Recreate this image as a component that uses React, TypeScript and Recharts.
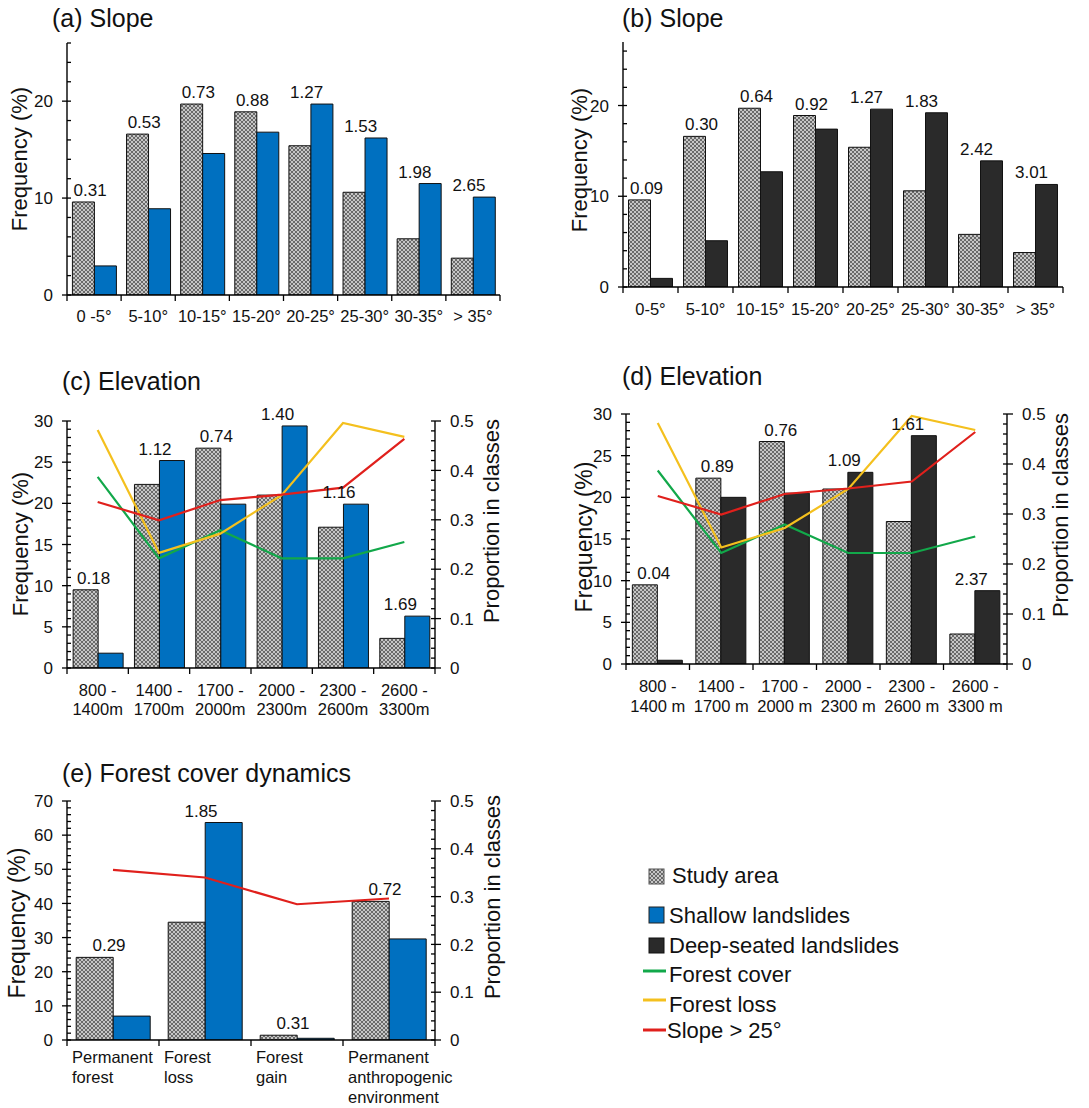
import React from 'react';
import { ComposedChart, Bar, Line, XAxis, YAxis, LabelList } from 'recharts';

const FONT = '"Liberation Sans", Arial, Helvetica, sans-serif';

// ---------- data ----------
const SLOPE_CATS_A = ['0 -5°', '5-10°', '10-15°', '15-20°', '20-25°', '25-30°', '30-35°', '> 35°'];
const SLOPE_CATS_B = ['0-5°', '5-10°', '10-15°', '15-20°', '20-25°', '25-30°', '30-35°', '> 35°'];
const SLOPE_STUDY = [9.6, 16.6, 19.7, 18.9, 15.4, 10.6, 5.8, 3.8];
const SLOPE_SHALLOW = [3.0, 8.9, 14.6, 16.8, 19.7, 16.2, 11.5, 10.1];
const SLOPE_SHALLOW_RATIO = ['0.31', '0.53', '0.73', '0.88', '1.27', '1.53', '1.98', '2.65'];
const SLOPE_DEEP = [0.95, 5.1, 12.7, 17.4, 19.6, 19.2, 13.9, 11.3];
const SLOPE_DEEP_RATIO = ['0.09', '0.30', '0.64', '0.92', '1.27', '1.83', '2.42', '3.01'];

const ELEV_CATS_C = ['800 -\n1400m', '1400 -\n1700m', '1700 -\n2000m', '2000 -\n2300m', '2300 -\n2600m', '2600 -\n3300m'];
const ELEV_CATS_D = ['800 -\n1400 m', '1400 -\n1700 m', '1700 -\n2000 m', '2000 -\n2300 m', '2300 -\n2600 m', '2600 -\n3300 m'];
const ELEV_STUDY = [9.5, 22.3, 26.7, 21.0, 17.1, 3.6];
const ELEV_SHALLOW = [1.8, 25.2, 19.9, 29.4, 19.9, 6.3];
const ELEV_SHALLOW_RATIO = ['0.18', '1.12', '0.74', '1.40', '1.16', '1.69'];
const ELEV_DEEP = [0.45, 20.0, 20.5, 23.0, 27.4, 8.8];
const ELEV_DEEP_RATIO = ['0.04', '0.89', '0.76', '1.09', '1.61', '2.37'];
const ELEV_FOREST_COVER = [0.387, 0.222, 0.279, 0.222, 0.222, 0.255];
const ELEV_FOREST_LOSS = [0.482, 0.233, 0.272, 0.35, 0.496, 0.468];
const ELEV_SLOPE25 = [0.336, 0.299, 0.34, 0.351, 0.365, 0.464];

const FOREST_CATS = ['Permanent\nforest', 'Forest\nloss', 'Forest\ngain', 'Permanent\nanthropogenic\nenvironment'];
const FOREST_STUDY = [24.2, 34.5, 1.4, 40.6];
const FOREST_SHALLOW = [7.0, 63.7, 0.5, 29.6];
const FOREST_RATIO = ['0.29', '1.85', '0.31', '0.72'];
const FOREST_SLOPE25 = [0.356, 0.34, 0.284, 0.296];

// ---------- colours ----------
const BLUE = '#0070C0';
const DARK = '#2a2a2a';
const GREEN = '#12A84A';
const YELLOW = '#F4C01E';
const RED = '#E0201C';

function buildRows(cats: string[], study: number[], slide: number[], ratio: string[], extra?: Record<string, number[]>) {
  return cats.map((name, i) => {
    const r: any = { name, pos: i + 0.5, study: study[i], slide: slide[i], top: Math.max(study[i], slide[i]), ratio: ratio[i] };
    if (extra) for (const k of Object.keys(extra)) r[k] = extra[k][i];
    return r;
  });
}

function range(start: number, end: number, step: number) {
  const out: number[] = [];
  for (let i = 0; start + i * step <= end + 1e-9; i++) out.push(Math.round((start + i * step) * 1000) / 1000);
  return out;
}

const isMult = (v: number, m: number) => Math.abs(v / m - Math.round(v / m)) < 1e-6;

const HatchDef = ({ id }: { id: string }) => (
  <pattern id={id} patternUnits="userSpaceOnUse" width={4} height={4}>
    <rect width={4} height={4} fill="#c6c6c6" />
    <path d="M0,0 L4,4 M4,0 L0,4" stroke="#6a6a6a" strokeWidth={1} />
  </pattern>
);

const LeftTick = (props: any) => {
  const { x, y, payload, major } = props;
  const v = payload.value;
  const mj = isMult(v, major);
  return (
    <g>
      <line x1={mj ? x - 5 : x} x2={x + 4} y1={y} y2={y} stroke="#000" strokeWidth={1.3} />
      {mj && (
        <text x={x - 14} y={y} dy="0.36em" textAnchor="end" fontSize={17} fontFamily={FONT} fill="#111">
          {String(v)}
        </text>
      )}
    </g>
  );
};

const RightTick = (props: any) => {
  const { x, y, payload } = props;
  const v = payload.value;
  const mj = isMult(v, 0.1);
  return (
    <g>
      <line x1={x - 4} x2={mj ? x + 6 : x} y1={y} y2={y} stroke="#000" strokeWidth={1.3} />
      {mj && (
        <text x={x + 15} y={y} dy="0.36em" textAnchor="start" fontSize={17} fontFamily={FONT} fill="#111">
          {v === 0 ? '0' : String(v)}
        </text>
      )}
    </g>
  );
};

const XTick = (props: any) => {
  const { x, y, payload, cats, mode, base, gap } = props;
  const v = payload.value;
  const isInt = Number.isInteger(v);
  const n = cats.length;
  let label: string | null = null;
  let tx = x;
  let anchor = 'middle';
  if (mode === 'center' && !isInt) {
    label = cats[Math.floor(v)];
  } else if (mode === 'start' && isInt && v < n) {
    label = cats[v];
    tx = x + 5;
    anchor = 'start';
  }
  return (
    <g>
      {isInt && <line x1={x} x2={x} y1={y} y2={y + 6} stroke="#000" strokeWidth={1.3} />}
      {label !== null &&
        label.split('\n').map((ln, i) => (
          <text key={i} x={tx} y={y + base + i * gap} textAnchor={anchor} fontSize={16.5} fontFamily={FONT} fill="#111">
            {ln}
          </text>
        ))}
    </g>
  );
};

const ValLabel = (props: any) => {
  const x = props.x ?? props.viewBox?.x;
  const y = props.y ?? props.viewBox?.y;
  if (x == null || y == null) return null;
  return (
    <text x={x - 4} y={y - 6} textAnchor="middle" fontSize={17} fontFamily={FONT} fill="#111">
      {props.value}
    </text>
  );
};

type PanelProps = {
  left: number;
  top: number;
  width: number;
  height: number;
  plotTop: number;
  leftW: number;
  rightW: number;
  rightMargin: number;
  xH: number;
  data: any[];
  cats: string[];
  slideColor: string;
  yMax: number;
  yMinor: number;
  yMajor: number;
  right?: boolean;
  lines?: { key: string; color: string }[];
  xMode: 'center' | 'start';
  xBase: number;
  xGap: number;
  pid: string;
};

function Panel(p: PanelProps) {
  const n = p.cats.length;
  const xTicks = range(0, n, 0.5);
  const yTicks = range(0, Math.floor(p.yMax / p.yMinor + 1e-9) * p.yMinor, p.yMinor);
  const rTicks = range(0, 0.5, 0.02);
  return (
    <div style={{ position: 'absolute', left: p.left, top: p.top }}>
      <ComposedChart
        width={p.width}
        height={p.height}
        data={p.data}
        margin={{ top: p.plotTop, right: p.rightMargin, bottom: 0, left: 0 }}
        barCategoryGap="10%"
        barGap={0}
      >
        <defs>
          <HatchDef id={p.pid} />
        </defs>
        <XAxis
          xAxisId="num"
          dataKey="pos"
          type="number"
          domain={[0, n]}
          ticks={xTicks}
          allowDataOverflow
          interval={0}
          height={p.xH}
          tickLine={false}
          tickSize={0}
          tickMargin={0}
          axisLine={{ stroke: '#000', strokeWidth: 1.4 }}
          tick={(tp: any) => <XTick {...tp} cats={p.cats} mode={p.xMode} base={p.xBase} gap={p.xGap} />}
        />
        <XAxis xAxisId="cat" dataKey="name" type="category" hide height={0} />
        <YAxis
          yAxisId="l"
          width={p.leftW}
          domain={[0, p.yMax]}
          ticks={yTicks}
          allowDataOverflow
          interval={0}
          tickLine={false}
          tickSize={0}
          tickMargin={0}
          axisLine={{ stroke: '#000', strokeWidth: 1.4 }}
          tick={(tp: any) => <LeftTick {...tp} major={p.yMajor} />}
        />
        {p.right && (
          <YAxis
            yAxisId="r"
            orientation="right"
            width={p.rightW}
            domain={[0, 0.5]}
            ticks={rTicks}
            allowDataOverflow
            interval={0}
            tickLine={false}
            tickSize={0}
            tickMargin={0}
            axisLine={{ stroke: '#000', strokeWidth: 1.4 }}
            tick={(tp: any) => <RightTick {...tp} />}
          />
        )}
        <Bar xAxisId="cat" yAxisId="l" dataKey="study" fill={`url(#${p.pid})`} stroke="#111" strokeWidth={1} isAnimationActive={false} />
        <Bar xAxisId="cat" yAxisId="l" dataKey="slide" fill={p.slideColor} stroke="#111" strokeWidth={1} isAnimationActive={false} />
        <Line xAxisId="cat" yAxisId="l" dataKey="top" stroke="none" dot={false} activeDot={false} isAnimationActive={false}>
          <LabelList dataKey="ratio" content={ValLabel} />
        </Line>
        {p.right &&
          (p.lines || []).map((l) => (
            <Line
              key={l.key}
              xAxisId="cat"
              yAxisId="r"
              dataKey={l.key}
              stroke={l.color}
              strokeWidth={2.2}
              dot={false}
              activeDot={false}
              isAnimationActive={false}
            />
          ))}
      </ComposedChart>
    </div>
  );
}

const rowsA = buildRows(SLOPE_CATS_A, SLOPE_STUDY, SLOPE_SHALLOW, SLOPE_SHALLOW_RATIO);
const rowsB = buildRows(SLOPE_CATS_B, SLOPE_STUDY, SLOPE_DEEP, SLOPE_DEEP_RATIO);
const elevExtra = { fc: ELEV_FOREST_COVER, fl: ELEV_FOREST_LOSS, s25: ELEV_SLOPE25 };
const rowsC = buildRows(ELEV_CATS_C, ELEV_STUDY, ELEV_SHALLOW, ELEV_SHALLOW_RATIO, elevExtra);
const rowsD = buildRows(ELEV_CATS_D, ELEV_STUDY, ELEV_DEEP, ELEV_DEEP_RATIO, elevExtra);
const rowsE = buildRows(FOREST_CATS, FOREST_STUDY, FOREST_SHALLOW, FOREST_RATIO, { s25: FOREST_SLOPE25 });

const ELEV_LINES = [
  { key: 'fc', color: GREEN },
  { key: 'fl', color: YELLOW },
  { key: 's25', color: RED },
];

const Title = ({ x, y, children }: any) => (
  <text x={x} y={y} fontSize={25} fontFamily={FONT} fill="#111">
    {children}
  </text>
);

const VTitle = ({ x, y, size = 22, children }: any) => (
  <text x={x} y={y} transform={`rotate(-90, ${x}, ${y})`} textAnchor="middle" fontSize={size} fontFamily={FONT} fill="#111">
    {children}
  </text>
);

const LegText = ({ x, y, children }: any) => (
  <text x={x} y={y} fontSize={22} fontFamily={FONT} fill="#111">
    {children}
  </text>
);

export default function App() {
  return (
    <div style={{ position: 'absolute', left: 0, top: 0, width: 1089, height: 1108, background: '#fff', overflow: 'hidden' }}>
      <Panel left={0} top={0} width={545} height={335} plotTop={43} leftW={67} rightW={0} rightMargin={45} xH={40}
        data={rowsA} cats={SLOPE_CATS_A} slideColor={BLUE} yMax={26} yMinor={2} yMajor={10}
        xMode="center" xBase={27} xGap={20} pid="hatchA" />
      <Panel left={545} top={0} width={544} height={335} plotTop={42} leftW={78} rightW={0} rightMargin={26} xH={48}
        data={rowsB} cats={SLOPE_CATS_B} slideColor={DARK} yMax={27} yMinor={2} yMajor={10}
        xMode="center" xBase={28} xGap={20} pid="hatchB" />
      <Panel left={0} top={360} width={545} height={370} plotTop={61} leftW={67} rightW={110} rightMargin={0} xH={62}
        data={rowsC} cats={ELEV_CATS_C} slideColor={BLUE} yMax={30} yMinor={1} yMajor={5} right lines={ELEV_LINES}
        xMode="center" xBase={28} xGap={19} pid="hatchC" />
      <Panel left={545} top={360} width={544} height={370} plotTop={54} leftW={81} rightW={82} rightMargin={0} xH={66}
        data={rowsD} cats={ELEV_CATS_D} slideColor={DARK} yMax={30} yMinor={1} yMajor={5} right lines={ELEV_LINES}
        xMode="center" xBase={28} xGap={20} pid="hatchD" />
      <Panel left={0} top={760} width={545} height={348} plotTop={41} leftW={67} rightW={110} rightMargin={0} xH={68}
        data={rowsE} cats={FOREST_CATS} slideColor={BLUE} yMax={70} yMinor={2} yMajor={10} right lines={[{ key: 's25', color: RED }]}
        xMode="start" xBase={23} xGap={20} pid="hatchE" />

      <svg width={1089} height={1108} style={{ position: 'absolute', left: 0, top: 0, pointerEvents: 'none' }}>
        <defs>
          <HatchDef id="hatchLegend" />
        </defs>
        <Title x={52} y={27}>(a) Slope</Title>
        <Title x={622} y={27}>(b) Slope</Title>
        <Title x={62} y={390}>(c) Elevation</Title>
        <Title x={622} y={385}>(d) Elevation</Title>
        <Title x={62} y={782}>(e) Forest cover dynamics</Title>

        <VTitle x={27} y={159}>Frequency (%)</VTitle>
        <VTitle x={587} y={160}>Frequency (%)</VTitle>
        <VTitle x={28} y={544}>Frequency (%)</VTitle>
        <VTitle x={499} y={521}>Proportion in classes</VTitle>
        <VTitle x={592} y={537} size={23}>Frequency (%)</VTitle>
        <VTitle x={1068} y={515}>Proportion in classes</VTitle>
        <VTitle x={25} y={923} size={23}>Frequency (%)</VTitle>
        <VTitle x={500} y={897}>Proportion in classes</VTitle>

        <rect x={649} y={869} width={15} height={15} fill="url(#hatchLegend)" stroke="#555" strokeWidth={1} />
        <LegText x={672} y={883}>Study area</LegText>
        <rect x={649} y={907} width={15} height={16} fill={BLUE} stroke="#222" strokeWidth={1} />
        <LegText x={669} y={923}>Shallow landslides</LegText>
        <rect x={649} y={938} width={15} height={15} fill={DARK} stroke="#111" strokeWidth={1} />
        <LegText x={669} y={953}>Deep-seated landslides</LegText>
        <line x1={643} x2={666} y1={971} y2={971} stroke={GREEN} strokeWidth={3} />
        <LegText x={669} y={982}>Forest cover</LegText>
        <line x1={643} x2={666} y1={1000} y2={1000} stroke={YELLOW} strokeWidth={3} />
        <LegText x={669} y={1012}>Forest loss</LegText>
        <line x1={643} x2={666} y1={1030} y2={1030} stroke={RED} strokeWidth={3} />
        <LegText x={667} y={1038}>Slope &gt; 25°</LegText>
      </svg>
    </div>
  );
}
